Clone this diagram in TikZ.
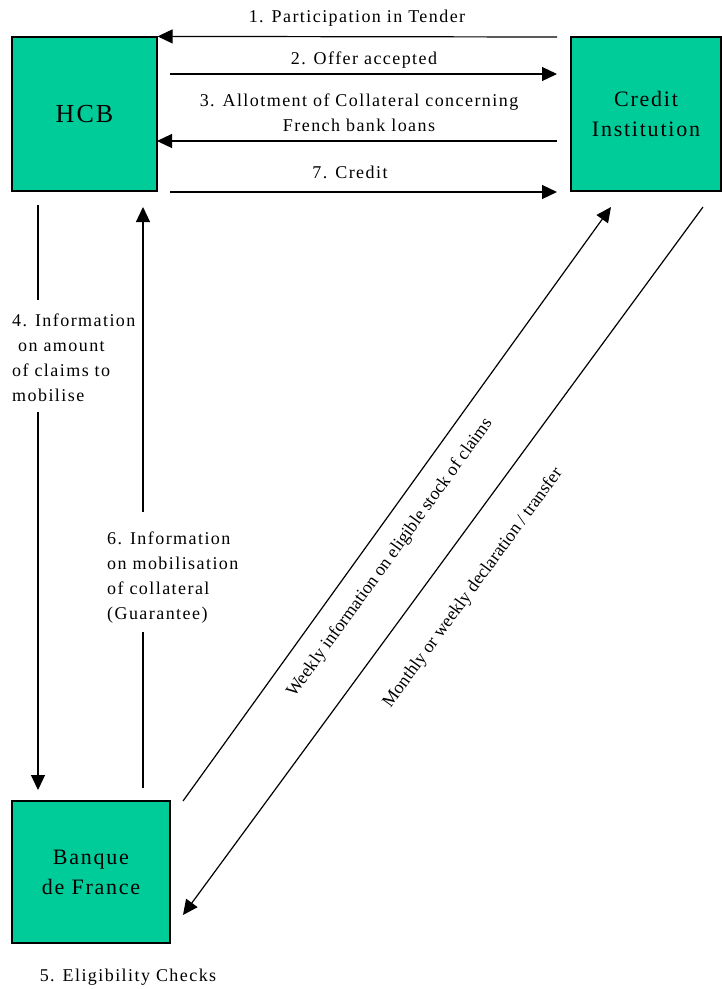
\documentclass[tikz,border=0pt]{standalone}
\usepackage{fontspec}
\setmainfont{Liberation Serif}
\newfontfamily\spfont[LetterSpace=8]{Liberation Serif}
\usetikzlibrary{arrows.meta,calc}
\definecolor{boxgreen}{RGB}{0,204,153}
\tikzset{
  actor/.style={draw=black, line width=1.2pt, fill=boxgreen, inner sep=0pt, align=center, text=black},
  lab/.style={font=\spfont\fontsize{18}{25}\selectfont, inner sep=0pt},
  diaglab/.style={font=\fontsize{18}{22}\selectfont, inner sep=0pt},
  conn/.style={line width=1.2pt, draw=black},
  arr/.style={conn, -{Triangle[length=15pt,width=14pt]}},
}
\begin{document}
\begin{tikzpicture}[x=1pt,y=-1pt]
\useasboundingbox (0,0) rectangle (721,989);
% boxes
\node[actor, minimum width=145pt, minimum height=154pt, font=\spfont\fontsize{26}{30}\selectfont] (hcb) at (84.5,114) {HCB};
\node[actor, minimum width=150pt, minimum height=154pt, font=\spfont\fontsize{22}{30}\selectfont] (ci) at (646,114) {Credit\\Institution};
\node[actor, minimum width=158pt, minimum height=142pt, font=\spfont\fontsize{22}{30}\selectfont] (bdf) at (91,872) {Banque\\de France};
% horizontal labels
\node[lab] (l1) at (357,18) {1. Participation in Tender};
\node[lab] (l2) at (364,60) {2. Offer accepted};
\node[lab, align=center] (l3) at (359,113) {3. Allotment of Collateral concerning\\French bank loans};
\node[lab] (l7) at (350,172) {7. Credit};
% coordinates for horizontal arrows
\coordinate (a1s) at (557,37);
\coordinate (a2s) at (170,74);
\coordinate (a2e) at (557,74);
\coordinate (a3s) at (557,141);
\coordinate (a3e) at (157,141);
\coordinate (a7s) at (170,192);
\coordinate (a7e) at (557,192);
\draw[arr] (a1s) -- (hcb.north east);
\draw[arr] (a2s) -- (a2e);
\draw[arr] (a3s) -- (a3e);
\draw[arr] (a7s) -- (a7e);
% vertical label 4
\node[lab, align=left, anchor=west] (l4) at (12,358) {4. Information\\\ on amount\\of claims to\\mobilise};
\coordinate (v4a) at (38,205);
\coordinate (v4b) at (38,300);
\coordinate (v4c) at (38,412);
\coordinate (v4d) at (38,790);
\draw[conn] (v4a) -- (v4b);
\draw[arr] (v4c) -- (v4d);
% vertical label 6
\node[lab, align=left, anchor=west] (l6) at (107,578) {6. Information\\on mobilisation\\of collateral\\(Guarantee)};
\coordinate (v6a) at (143,788);
\coordinate (v6b) at (143,632);
\coordinate (v6c) at (143,512);
\coordinate (v6d) at (143,207);
\draw[conn] (v6a) -- (v6b);
\draw[arr] (v6c) -- (v6d);
% diagonals
\coordinate (d1s) at (183,801);
\coordinate (d1e) at (611,207);
\draw[arr] (d1s) -- (d1e);
\coordinate (d2s) at (703,207);
\coordinate (d2e) at (183,915);
\draw[arr] (d2s) -- (d2e);
\node[diaglab, rotate=54.2] (lw) at (390,558) {Weekly information on eligible stock of claims};
\node[diaglab, rotate=53.8] (lm) at (473,588) {Monthly or weekly declaration / transfer};
% label 5
\node[lab] (l5) at (128,977) {5. Eligibility Checks};
\end{tikzpicture}
\end{document}
